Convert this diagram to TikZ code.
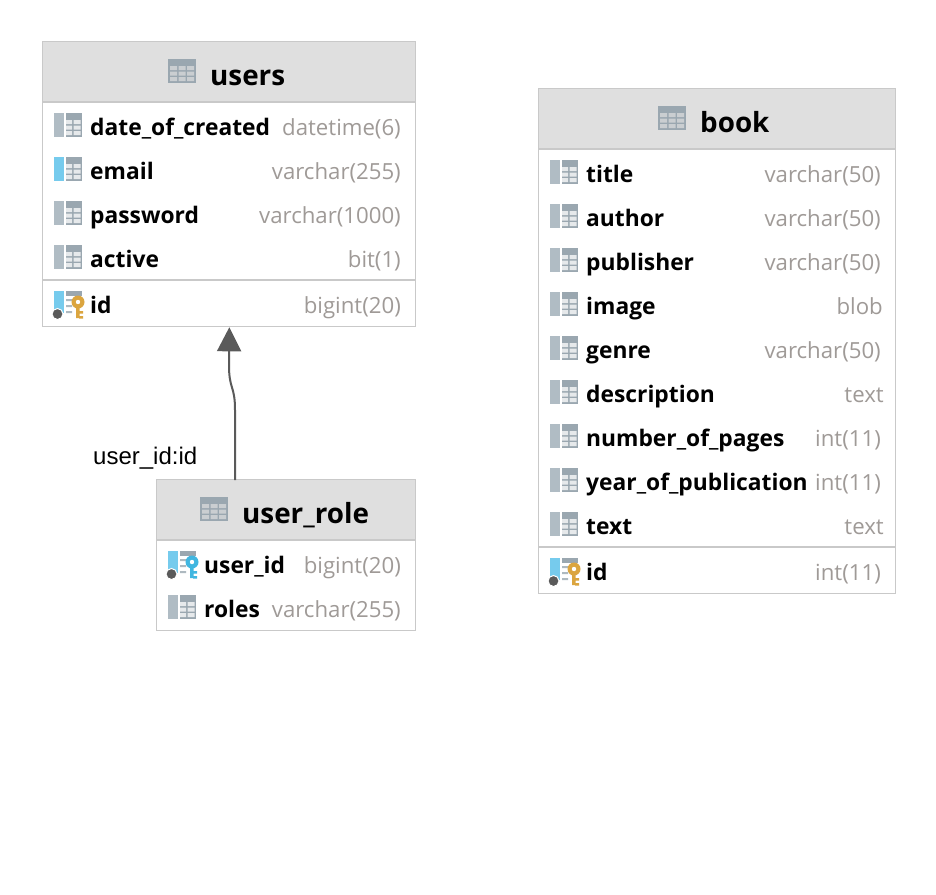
\documentclass[tikz,border=0pt]{standalone}
\usepackage{fontspec}
\setmainfont{Open Sans}
\newfontfamily\labelfont{Liberation Sans}
\usetikzlibrary{arrows.meta}

\definecolor{boxline}{HTML}{C9C9C9}
\definecolor{headfill}{HTML}{DFDFDF}
\definecolor{icongray}{HTML}{9AA7B0}
\definecolor{barblue}{HTML}{76CBED}
\definecolor{bargray}{HTML}{B0BCC4}
\definecolor{keygold}{HTML}{DBA53F}
\definecolor{keyblue}{HTML}{40B6E0}
\definecolor{typegray}{HTML}{9F9A97}
\definecolor{linkgray}{HTML}{5A5A5A}

\tikzset{
    tablebox/.style={rectangle,draw=boxline,line width=1pt,fill=white,anchor=north west,inner sep=0,xshift=-0.7pt,yshift=0.7pt},
    headbox/.style={rectangle,draw=boxline,line width=1pt,fill=headfill,anchor=north west,inner sep=0,xshift=-0.7pt,yshift=0.7pt},
    tabletitle/.style={anchor=base west,inner sep=0,font=\fontsize{27.8}{30}\selectfont\bfseries},
    colname/.style={anchor=base west,inner sep=0,font=\fontsize{22.8}{26}\selectfont\bfseries},
    coltype/.style={anchor=base east,inner sep=0,text=typegray,font=\fontsize{22.2}{26}\selectfont},
    seprule/.style={boxline,line width=2pt}
}

% table icon of a header, #1 #2 = top left corner
\newcommand{\tableicon}[2]{
    \fill[icongray] (#1,#2) rectangle ++(28,24);
    \fill[headfill!70!icongray] (#1+2,#2+7) rectangle ++(7,4) (#1+10.500,#2+7) rectangle ++(7,4) (#1+19,#2+7) rectangle ++(7,4)
    (#1+2,#2+12.500) rectangle ++(7,4) (#1+10.500,#2+12.500) rectangle ++(7,4) (#1+19,#2+12.500) rectangle ++(7,4)
    (#1+2,#2+18) rectangle ++(7,4) (#1+10.500,#2+18) rectangle ++(7,4) (#1+19,#2+18) rectangle ++(7,4);
}
% column icon, #1 #2 = top left corner, #3 = colour of the bar
\newcommand{\colicon}[3]{
    \fill[#3] (#1,#2) rectangle ++(10,24);
    \fill[icongray] (#1+12,#2) rectangle ++(16,24);
    \fill[white!75!icongray] (#1+12,#2+7) rectangle ++(6,4) (#1+19.500,#2+7) rectangle ++(7,4)
    (#1+12,#2+12.500) rectangle ++(6,4) (#1+19.500,#2+12.500) rectangle ++(7,4)
    (#1+12,#2+18) rectangle ++(6,4) (#1+19.500,#2+18) rectangle ++(7,4);
}
% key column icon, #1 #2 = top left corner, #3 = colour of the key
\newcommand{\keyicon}[3]{
    \fill[barblue] (#1,#2) rectangle ++(10,22);
    \fill[linkgray,draw=white,line width=1pt] (#1+3.500,#2+23) circle (5.500);
    \fill[icongray] (#1+12,#2) rectangle ++(16,5);
    \fill[icongray!80] (#1+12,#2+8) rectangle ++(6,2) (#1+12,#2+14) rectangle ++(6,2) (#1+12,#2+20) rectangle ++(6,2);
    \fill[#3] (#1+22,#2+15) rectangle ++(3.500,12) (#1+25,#2+20) rectangle ++(4,2.500) (#1+25,#2+25) rectangle ++(4,2.500);
    \fill[#3] (#1+24,#2+11) circle (6.500);
    \fill[white] (#1+24,#2+11) circle (2.200);
}

\begin{document}
\begin{tikzpicture}[x=1pt,y=-1pt]
    \useasboundingbox (0,0) rectangle (936,894);

    % users
    \node[tablebox,minimum width=373pt,minimum height=285pt](users) at (43,42){};
    \node[headbox,minimum width=373pt,minimum height=60pt](usershead) at (43,42){};
    \draw[seprule] (users.west |- usershead.south) -- (users.east |- usershead.south);
    \draw[seprule] (users.west |- 0,280) -- (users.east |- 0,280);
    \tableicon{168}{59}
    \node[tabletitle](userstitle) at (210,85){users};
    \colicon{54}{113}{bargray}
    \node[colname](u1) at (90,135){date\_of\_created};
    \node[coltype](u1t) at (401,135){datetime(6)};
    \colicon{54}{157}{barblue}
    \node[colname](u2) at (90,179){email};
    \node[coltype](u2t) at (401,179){varchar(255)};
    \colicon{54}{201}{bargray}
    \node[colname](u3) at (90,223){password};
    \node[coltype](u3t) at (401,223){varchar(1000)};
    \colicon{54}{245}{bargray}
    \node[colname](u4) at (90,267){active};
    \node[coltype](u4t) at (401,267){bit(1)};
    \keyicon{54}{291}{keygold}
    \node[colname](u5) at (90,313){id};
    \node[coltype](u5t) at (401,313){bigint(20)};

    % user_role
    \node[tablebox,minimum width=259pt,minimum height=151pt](role) at (157,480){};
    \node[headbox,minimum width=259pt,minimum height=60pt](rolehead) at (157,480){};
    \draw[seprule] (role.west |- rolehead.south) -- (role.east |- rolehead.south);
    \tableicon{200}{497}
    \node[tabletitle](roletitle) at (242,523){user\_role};
    \keyicon{168}{551}{keyblue}
    \node[colname](r1) at (204,573){user\_id};
    \node[coltype](r1t) at (401,573){bigint(20)};
    \colicon{168}{595}{bargray}
    \node[colname](r2) at (204,617){roles};
    \node[coltype](r2t) at (401,617){varchar(255)};

    % book
    \node[tablebox,minimum width=357pt,minimum height=505pt](book) at (539,89){};
    \node[headbox,minimum width=357pt,minimum height=60pt](bookhead) at (539,89){};
    \draw[seprule] (book.west |- bookhead.south) -- (book.east |- bookhead.south);
    \draw[seprule] (book.west |- 0,547) -- (book.east |- 0,547);
    \tableicon{658}{106}
    \node[tabletitle](booktitle) at (700,132){book};
    \colicon{550}{160}{bargray}
    \node[colname](b1) at (586,182){title};
    \node[coltype](b1t) at (881,182){varchar(50)};
    \colicon{550}{204}{bargray}
    \node[colname](b2) at (586,226){author};
    \node[coltype](b2t) at (881,226){varchar(50)};
    \colicon{550}{248}{bargray}
    \node[colname](b3) at (586,270){publisher};
    \node[coltype](b3t) at (881,270){varchar(50)};
    \colicon{550}{292}{bargray}
    \node[colname](b4) at (586,314){image};
    \node[coltype](b4t) at (883,314){blob};
    \colicon{550}{336}{bargray}
    \node[colname](b5) at (586,358){genre};
    \node[coltype](b5t) at (881,358){varchar(50)};
    \colicon{550}{380}{bargray}
    \node[colname](b6) at (586,402){description};
    \node[coltype](b6t) at (884,402){text};
    \colicon{550}{424}{bargray}
    \node[colname](b7) at (586,446){number\_of\_pages};
    \node[coltype](b7t) at (881,446){int(11)};
    \colicon{550}{468}{bargray}
    \node[colname](b8) at (586,490){year\_of\_publication};
    \node[coltype](b8t) at (881,490){int(11)};
    \colicon{550}{512}{bargray}
    \node[colname](b9) at (586,534){text};
    \node[coltype](b9t) at (884,534){text};
    \keyicon{550}{558}{keygold}
    \node[colname](b10) at (586,580){id};
    \node[coltype](b10t) at (881,580){int(11)};

    % link
    \coordinate(linkstart) at (235,480);
    \draw[linkgray,line width=2pt,-{Triangle[length=24pt,width=24pt]}]
    (linkstart) -- (235,410) .. controls (235,385) and (229,390) .. (229,365) -- (users.south);
    \node[anchor=base west,inner sep=0,font=\labelfont\fontsize{24}{26}\selectfont](linklabel) at (93,464){user\_id:id};
\end{tikzpicture}
\end{document}
